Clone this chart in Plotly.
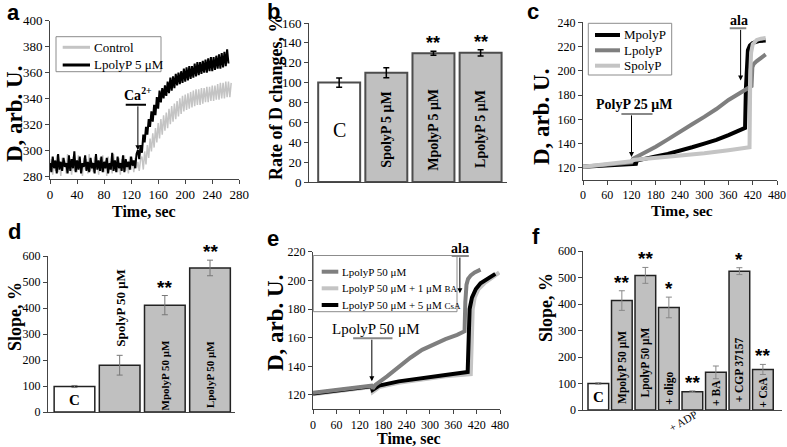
import plotly.graph_objects as go

SERIF = "Liberation Serif"
SANS = "Liberation Sans"
W, H = 787, 447


def px(x):
    return x / W


def py(y):
    return 1 - y / H


# ---------------- data ----------------
# panel a (sampled every 2 s)
a_names = ["Control", "LpolyP 5 μM"]
a_lpolyp = [290, 283, 295, 286, 292, 282, 297, 285, 291, 284,
            294, 287, 290, 282, 296, 284, 293, 286, 299, 283,
            292, 285, 295, 282, 290, 287, 296, 284, 291, 283,
            294, 286, 290, 282, 297, 285, 292, 284, 295, 283,
            291, 286, 294, 282, 290, 285, 298, 284, 292, 283,
            295, 286, 290, 284, 296, 283, 293, 287, 291, 285,
            295, 288, 292, 286, 297,
            300, 293, 304, 298, 312, 306, 318, 312, 324, 318,
            330, 322, 335, 327, 341, 332, 346, 337, 348, 340,
            350, 342, 353, 344, 356, 346, 357, 348, 359, 350,
            360, 351, 361, 352, 363, 353, 364, 354, 365, 355,
            365, 356, 367, 357, 368, 358, 368, 359, 369, 360,
            370, 360, 371, 361, 372, 361, 372, 362, 373, 363,
            374, 363, 375, 364, 376, 365, 378, 367]
a_control = [286, 293, 281, 290, 284, 296, 283, 291, 280, 294,
             287, 292, 282, 297, 285, 290, 281, 295, 284, 292,
             283, 296, 286, 290, 280, 294, 285, 293, 282, 297,
             284, 291, 283, 295, 286, 290, 281, 294, 284, 296,
             283, 292, 280, 295, 287, 291, 282, 297, 285, 290,
             283, 294, 281, 293, 286, 296, 284, 290, 282, 295,
             285, 292, 283, 294, 286, 291, 284, 293,
             295, 285, 299, 289, 304, 294, 309, 299, 313, 302,
             317, 306, 321, 309, 324, 312, 327, 315, 329, 317,
             332, 320, 334, 322, 336, 324, 338, 326, 340, 328,
             342, 330, 343, 331, 344, 332, 345, 333, 346, 334,
             347, 335, 347, 335, 348, 336, 348, 337, 349, 337,
             349, 338, 350, 338, 350, 339, 351, 339, 352, 340,
             352, 340, 353, 341, 353, 341, 352]
a_time_lp = [2 * i for i in range(len(a_lpolyp))]
a_time_ctrl = [2 * i for i in range(len(a_control))]

# panel b
b_cats = ["C", "SpolyP 5 μM", "MpolyP 5 μM", "LpolyP 5 μM"]
b_vals = [100, 110, 129.5, 130]
b_err = [4.7, 5, 2, 3.2]
b_sig = ["", "", "**", "**"]

# panel c
c_names = ["MpolyP", "LpolyP", "SpolyP"]
c_m_t = [0, 60, 120, 131, 133, 150, 180, 210, 240, 270, 300, 330, 360, 380, 401, 403, 405, 408, 413, 420, 435, 452]
c_m_y = [121, 122, 123, 123.3, 126, 127.5, 129.5, 131.5, 134, 137, 140, 143, 147, 150, 153, 185, 210, 217, 221, 223, 224.5, 225]
c_l_t = [0, 60, 120, 124, 150, 180, 210, 240, 270, 300, 330, 360, 390, 417, 419, 422, 430, 440, 452]
c_l_y = [121, 122.5, 124.5, 127.5, 132, 137.5, 143.5, 150, 156, 162, 168.5, 176, 182, 187.5, 203, 205.5, 208, 210.5, 213.5]
c_s_t = [0, 120, 124, 180, 240, 300, 360, 412, 414, 416, 420, 430, 440, 452]
c_s_y = [121, 125.5, 126.5, 128, 130, 132, 134.5, 137, 200, 215, 222, 225.5, 226.5, 227]

# panel d
d_cats = ["C", "SpolyP 50 μM", "MpolyP 50 μM", "LpolyP 50 μM"]
d_vals = [98, 180, 411, 554]
d_err = [4, 38, 37, 30]
d_sig = ["", "", "**", "**"]

# panel e
e_names = ["LpolyP 50 μM",
           "LpolyP 50 μM + 1 μM <span style='font-size:9px'>BA</span>",
           "LpolyP 50 μM + 5 μM <span style='font-size:9px'>CsA</span>"]
e_l_t = [0, 60, 120, 150, 153, 160, 190, 220, 250, 280, 310, 340, 370, 389, 391, 394, 398, 405, 415, 430]
e_l_y = [121.5, 123.5, 125.5, 126.5, 124.5, 127, 133, 139.5, 146, 151.5, 155.5, 159, 162, 164.5, 185, 197, 201, 203.5, 205.5, 207.5]
e_ba_t = [0, 60, 120, 150, 153, 170, 220, 280, 340, 405, 407, 410, 415, 425, 440, 460, 478]
e_ba_y = [120.5, 122.5, 124.5, 125.5, 122, 125.5, 128.5, 131, 133, 134.5, 160, 180, 188, 194, 198, 202, 205.5]
e_csa_t = [0, 60, 120, 150, 153, 170, 220, 280, 340, 397, 399, 402, 408, 418, 430, 450, 468]
e_csa_y = [121, 123, 125, 126, 123.5, 126.5, 129.5, 132, 134, 136, 165, 180, 188, 194, 198, 201.5, 204.5]

# panel f
f_cats = ["C", "MpolyP 50 μM", "LpolyP 50 μM", "+ oligo", "+ ADP", "+ BA", "+ CGP 37157", "+ CsA"]
f_vals = [100, 413, 508, 387, 69, 142, 524, 153]
f_err = [3, 37, 30, 39, 3, 24, 13, 19]
f_sig = ["", "**", "**", "*", "**", "", "*", "**"]

BLACK = "#000000"
DARK = "#7f7f7f"
LIGHT = "#c4c4c4"
BARGRAY = "#c0c0c0"

fig = go.Figure()

# ---------------- panel a ----------------
a_colors = [LIGHT, BLACK]
a_widths = [1.5, 2]
fig.add_trace(go.Scatter(x=a_time_ctrl, y=a_control, mode="lines", name=a_names[0],
                         line=dict(color=a_colors[0], width=a_widths[0]), xaxis="x", yaxis="y"))
fig.add_trace(go.Scatter(x=a_time_lp, y=a_lpolyp, mode="lines", name=a_names[1],
                         line=dict(color=a_colors[1], width=a_widths[1]), xaxis="x", yaxis="y"))

# ---------------- panel b ----------------
fig.add_trace(go.Bar(x=list(range(len(b_cats))), y=b_vals, width=0.89,
                     marker=dict(color=["white"] + [BARGRAY] * (len(b_cats) - 1),
                                 line=dict(color="#4d4d4d", width=2)),
                     error_y=dict(type="data", array=b_err, color="black", thickness=1.5, width=3),
                     xaxis="x2", yaxis="y2"))

# ---------------- panel c ----------------
c_colors = [BLACK, DARK, LIGHT]
for tt, yy, nm, col in zip([c_m_t, c_l_t, c_s_t], [c_m_y, c_l_y, c_s_y], c_names, c_colors):
    fig.add_trace(go.Scatter(x=tt, y=yy, mode="lines", name=nm,
                             line=dict(color=col, width=4), xaxis="x3", yaxis="y3"))

# ---------------- panel d ----------------
fig.add_trace(go.Bar(x=list(range(len(d_cats))), y=d_vals, width=0.9,
                     marker=dict(color=["white"] + [BARGRAY] * (len(d_cats) - 1),
                                 line=dict(color="#222222", width=1.5)),
                     error_y=dict(type="data", array=d_err, color="#777777", thickness=1, width=3),
                     xaxis="x4", yaxis="y4"))

# ---------------- panel e ----------------
e_colors = [DARK, LIGHT, BLACK]
# drawing order: BA, CsA, then LpolyP on top
for idx, (tt, yy) in zip([1, 2, 0], [(e_ba_t, e_ba_y), (e_csa_t, e_csa_y), (e_l_t, e_l_y)]):
    fig.add_trace(go.Scatter(x=tt, y=yy, mode="lines", name=e_names[idx],
                             line=dict(color=e_colors[idx], width=4), xaxis="x5", yaxis="y5"))

# ---------------- panel f ----------------
fig.add_trace(go.Bar(x=list(range(len(f_cats))), y=f_vals, width=0.88,
                     marker=dict(color=["white"] + [BARGRAY] * (len(f_cats) - 1),
                                 line=dict(color="#222222", width=1.5)),
                     error_y=dict(type="data", array=f_err, color="#888888", thickness=1, width=3),
                     xaxis="x6", yaxis="y6"))

# ---------------- axes ----------------
common = dict(showline=True, linecolor="#444444", linewidth=1, ticks="outside", ticklen=4,
              tickwidth=1, tickcolor="#444444", showgrid=False, zeroline=False, automargin=False,
              tickfont=dict(family=SERIF, size=13, color="black"), fixedrange=True)
barx = dict(showline=True, linecolor="#444444", linewidth=1, ticks="", showticklabels=False,
            showgrid=False, zeroline=False, fixedrange=True, automargin=False)
small = dict(common, tickfont=dict(family=SERIF, size=12, color="black"))

layout_axes = dict(
    xaxis=dict(common, domain=[px(50), px(239.3)], range=[0, 280], dtick=40, anchor="y"),
    yaxis=dict(common, domain=[py(178.6), py(20.8)], range=[278, 400], dtick=20, tick0=280, anchor="x"),
    xaxis2=dict(barx, domain=[px(309), px(507)], range=[-0.64, 3.56], anchor="y2"),
    yaxis2=dict(common, domain=[py(182), py(23)], range=[0, 160], dtick=20, anchor="x2"),
    xaxis3=dict(small, domain=[px(583), px(777)], range=[0, 480], dtick=60, anchor="y3"),
    yaxis3=dict(small, domain=[py(180), py(22.3)], range=[110, 240], dtick=20, tick0=120, anchor="x3"),
    xaxis4=dict(barx, domain=[px(48), px(235)], range=[-0.586, 3.553], anchor="y4"),
    yaxis4=dict(small, domain=[py(412), py(256)], range=[0, 600], dtick=100, anchor="x4"),
    xaxis5=dict(small, domain=[px(313), px(500)], range=[0, 480], dtick=60, anchor="y5"),
    yaxis5=dict(small, domain=[py(409.3), py(251.7)], range=[110, 220], dtick=20, tick0=120, anchor="x5"),
    xaxis6=dict(barx, domain=[px(583.3), px(781.7)], range=[-0.64, 7.8], anchor="y6"),
    yaxis6=dict(small, domain=[py(410), py(251)], range=[0, 600], dtick=100, anchor="x6"),
)

ann = []
shapes = []


def text(x, y, s, size, xref="paper", yref="paper", bold=False, family=SERIF, angle=0, **kw):
    kw.setdefault("xanchor", "center")
    kw.setdefault("yanchor", "middle")
    ann.append(dict(x=x, y=y, xref=xref, yref=yref, text=("<b>%s</b>" % s) if bold else s,
                    showarrow=False, textangle=angle,
                    font=dict(family=family, size=size, color="black"), **kw))


def arrow(xr, yr, x, ytip, ytail):
    ann.append(dict(x=x, y=ytip, ax=x, ay=ytail, xref=xr, yref=yr, axref=xr, ayref=yr,
                    text="", showarrow=True, arrowhead=2, arrowsize=1, arrowwidth=1,
                    arrowcolor="black", standoff=0, startstandoff=0))


def hbar(xr, yr, x0, x1, y, color):
    shapes.append(dict(type="line", xref=xr, yref=yr, x0=x0, x1=x1, y0=y, y1=y,
                       line=dict(color=color, width=2)))


def legend_box(x0, y0, x1, y1, rows_y, sx0, sx1, tx, names, colors, widths, size):
    shapes.append(dict(type="rect", xref="paper", yref="paper", x0=px(x0), x1=px(x1),
                       y0=py(y1), y1=py(y0), line=dict(color="#8c8c8c", width=1),
                       fillcolor="white", layer="above"))
    for ry, nm, col, wd in zip(rows_y, names, colors, widths):
        shapes.append(dict(type="line", xref="paper", yref="paper", x0=px(sx0), x1=px(sx1),
                           y0=py(ry), y1=py(ry), line=dict(color=col, width=wd)))
        text(px(tx), py(ry), nm, size, xanchor="left")


# panel letters
for letter, (lx, ly) in {"a": (13, 13), "b": (273, 12), "c": (533, 12),
                         "d": (14, 232), "e": (273, 238), "f": (536, 236)}.items():
    text(px(lx), py(ly), letter, 22, bold=True, family=SANS)

# axis titles
text(px(14), py(114), "D, arb. U.", 23, bold=True, angle=-90)
text(px(144), py(211), "Time, sec", 16, bold=True)
text(px(276), py(98), "Rate of D changes, %", 18, bold=True, angle=-90)
text(px(542), py(117), "D, arb. U.", 23, bold=True, angle=-90)
text(px(682), py(210.5), "Time, sec", 15.5, bold=True)
text(px(15), py(317), "Slope, %", 18, bold=True, angle=-90)
text(px(275), py(323), "D, arb. U.", 23, bold=True, angle=-90)
text(px(409), py(438), "Time, sec", 16, bold=True)
text(px(546), py(308), "Slope, %", 18, bold=True, angle=-90)

# legends
legend_box(56, 36.7, 161, 71.7, [47.3, 65], 62.7, 90, 91.7, a_names, a_colors, [3, 3], 13)
legend_box(588.3, 23.3, 671.7, 75, [35, 50.3, 65.7], 595, 620, 621.7, c_names, c_colors, [4, 4, 4], 13)
legend_box(313.3, 255.5, 457, 311.7, [271.7, 288.3, 305], 321.7, 338.3, 340, e_names, e_colors,
           [4, 4, 4], 11)

# panel a annotations
text(130, 335, "Ca<sup>2+</sup>", 14, xref="x", yref="y", bold=True, yanchor="bottom")
hbar("x", "y", 112, 142, 335, "black")
arrow("x", "y", 130, 300, 335)

# panel b labels
text(0, 52, b_cats[0], 20, xref="x2", yref="y2")
for i in range(1, len(b_cats)):
    text(i, 53, b_cats[i], 14, xref="x2", yref="y2", bold=True, angle=-90)
for i, s in enumerate(b_sig):
    if s:
        text(i, b_vals[i] + b_err[i], s, 18, xref="x2", yref="y2", bold=True, family=SANS,
             yanchor="bottom", yshift=-4)

# panel c annotations
text(126, 172, "PolyP 25 μM", 14, xref="x3", yref="y3", bold=True)
hbar("x3", "y3", 95, 172, 164.5, "#888888")
arrow("x3", "y3", 120, 129, 164.5)
text(385, py(20), "ala", 14, xref="x3", yref="paper", bold=True)
hbar("x3", "y3", 363, 404, 235, "#888888")
arrow("x3", "y3", 390, 192, 235)

# panel d labels
text(0, 46, d_cats[0], 15, xref="x4", yref="y4", bold=True)
text(1, 400, d_cats[1], 13, xref="x4", yref="y4", bold=True, angle=-90)
text(2, 140, d_cats[2], 11, xref="x4", yref="y4", bold=True, angle=-90)
text(3, 142, d_cats[3], 11, xref="x4", yref="y4", bold=True, angle=-90)
for i, s in enumerate(d_sig):
    if s:
        text(i, d_vals[i] + d_err[i], s, 19, xref="x4", yref="y4", bold=True, family=SANS,
             yanchor="bottom", yshift=-4)

# panel e annotations
text(162, 166, "LpolyP 50 μM", 15, xref="x5", yref="y5")
hbar("x5", "y5", 103, 204, 159.6, "#888888")
arrow("x5", "y5", 151, 129.5, 159.6)
text(377, py(248), "ala", 14, xref="x5", yref="paper", bold=True)
hbar("x5", "y5", 356, 400, 217, "#888888")
arrow("x5", "y5", 377, 191, 217)

# panel f labels
text(0, 49, f_cats[0], 15, xref="x6", yref="y6", bold=True)
f_label_y = {1: 162, 2: 181, 3: 83, 5: 64, 6: 151, 7: 68}
for i, yy in f_label_y.items():
    text(i, yy, f_cats[i], 11.5, xref="x6", yref="y6", bold=True, angle=-90)
text(px(683), py(421), f_cats[4], 11, angle=-30)
for i, s in enumerate(f_sig):
    if s:
        text(i, f_vals[i] + f_err[i], s, 19, xref="x6", yref="y6", bold=True, family=SANS,
             yanchor="bottom", yshift=-4)

fig.update_layout(
    template="none", showlegend=False,
    width=W, height=H, margin=dict(l=0, r=0, t=0, b=0, autoexpand=False),
    paper_bgcolor="white", plot_bgcolor="white",
    bargap=0.1,
    annotations=ann, shapes=shapes,
    **layout_axes,
)

fig.write_html("out.html", config={"displayModeBar": False},
               post_script="document.body.style.margin='0';")
